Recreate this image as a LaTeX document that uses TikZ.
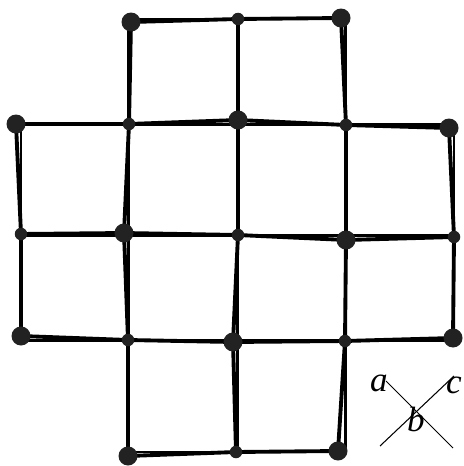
\documentclass[tikz,border=0pt]{standalone}
\usepackage{fontspec}
\setmainfont{Liberation Serif}
\definecolor{dotgray}{RGB}{34,34,34}
\tikzset{
  bigdot/.style={circle, fill=dotgray, minimum size=0.38cm, inner sep=0pt},
  smalldot/.style={circle, fill=dotgray, minimum size=0.25cm, inner sep=0pt},
  realedge/.style={line width=2.2pt, black},
  idealedge/.style={line width=1.2pt, black},
  legline/.style={line width=0.6pt, black},
  leglabel/.style={font=\fontsize{20}{22}\selectfont\itshape, inner sep=0pt}
}

\begin{document}
\begin{tikzpicture}[x=0.02cm, y=-0.02cm]
  \useasboundingbox (0,0) rectangle (463,466);
  % ideal lattice
  \foreach \c/\x in {0/21,1/128.5,2/237.5,3/345.5,4/454}
    \foreach \r/\y in {0/19,1/124.5,2/235.5,3/340.5,4/452}
      \coordinate (i-\r-\c) at (\x,\y);
  % displaced points
  \foreach \rc/\x/\y in {0-1/131/22, 0-2/238/19, 0-3/341/18,
      1-0/16/124, 1-1/129/124, 1-2/238/120, 1-3/346/125, 1-4/449/128,
      2-0/21/234, 2-1/124/233, 2-2/238/235, 2-3/346/240, 2-4/454/237,
      3-0/21/336, 3-1/128/340, 3-2/233/342, 3-3/345/341, 3-4/453/338,
      4-1/128/456, 4-2/236/452, 4-3/338/451}
    \coordinate (p-\rc) at (\x,\y);
  % edges
  \foreach \a/\b in {0-1/0-2, 0-2/0-3, 4-1/4-2, 4-2/4-3,
      1-0/1-1, 1-1/1-2, 1-2/1-3, 1-3/1-4,
      2-0/2-1, 2-1/2-2, 2-2/2-3, 2-3/2-4,
      3-0/3-1, 3-1/3-2, 3-2/3-3, 3-3/3-4,
      0-1/1-1, 0-2/1-2, 0-3/1-3, 3-1/4-1, 3-2/4-2, 3-3/4-3,
      1-0/2-0, 1-1/2-1, 1-2/2-2, 1-3/2-3, 1-4/2-4,
      2-0/3-0, 2-1/3-1, 2-2/3-2, 2-3/3-3, 2-4/3-4}
  {
    \draw[idealedge] (i-\a) -- (i-\b);
    \draw[realedge] (p-\a) -- (p-\b);
  }
  % dots
  \foreach \rc in {0-1,0-3,1-0,1-2,1-4,2-1,2-3,3-0,3-2,3-4,4-1,4-3}
    \node[bigdot] (d-\rc) at (p-\rc) {};
  \foreach \rc in {0-2,1-1,1-3,2-0,2-2,2-4,3-1,3-3,4-2}
    \node[smalldot] (d-\rc) at (p-\rc) {};

  % legend
  \coordinate (la) at (386,381);
  \coordinate (lb) at (453,448);
  \coordinate (lc) at (454,376);
  \coordinate (ld) at (380,446);
  \draw[legline] (la) -- (lb);
  \draw[legline] (lc) -- (ld);
  \node[leglabel] (labela) at (379,383) {a};
  \node[leglabel] (labelb) at (416,419) {b};
  \node[leglabel] (labelc) at (454,385) {c};
\end{tikzpicture}
\end{document}
